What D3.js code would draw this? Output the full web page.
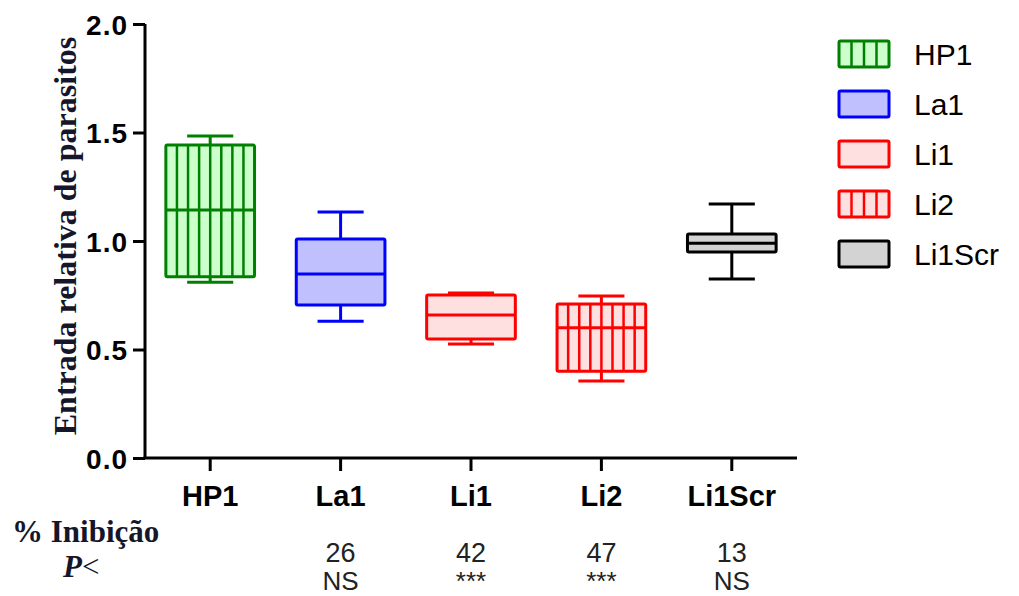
<!DOCTYPE html>
<html>
<head>
<meta charset="utf-8">
<script src="https://cdn.jsdelivr.net/npm/d3@7"></script>
<style>
  html, body { margin: 0; padding: 0; background: #fff; }
  svg { display: block; }
  .serif { font-family: "Liberation Serif", "Times New Roman", serif; font-weight: bold; fill: #16162a; }
  .sans { font-family: "Liberation Sans", Arial, sans-serif; }
</style>
</head>
<body>
<svg id="chart" width="1019" height="596"></svg>
<script>
// Box-plot summary per group (relative parasite entry)
const categories  = ["HP1", "La1", "Li1", "Li2", "Li1Scr"];
const whiskerLow  = [0.81, 0.63, 0.525, 0.355, 0.825];
const q1          = [0.835, 0.705, 0.548, 0.40, 0.949];
const median      = [1.143, 0.848, 0.659, 0.60, 0.99];
const q3          = [1.442, 1.009, 0.751, 0.71, 1.032];
const whiskerHigh = [1.484, 1.134, 0.76, 0.747, 1.17];
const yTicks      = [0.0, 0.5, 1.0, 1.5, 2.0];
const inhibition  = ["", "26", "42", "47", "13"];
const pValues     = ["", "NS", "***", "***", "NS"];

// Per-group appearance
const strokes  = ["#008000", "#0000ff", "#ff0000", "#ff0000", "#000000"];
const fills    = ["#ccffcc", "#c0c0ff", "#ffe0e0", "#ffe0e0", "#d3d3d3"];
const hatched  = [true, false, false, true, false];

const svg = d3.select("#chart");
const plotLeft = 145, plotRight = 797, plotTop = 24, plotBottom = 458;

const x = d3.scaleBand().domain(categories).range([plotLeft, plotRight]).padding(0);
const y = d3.scaleLinear().domain([0, 2]).range([plotBottom, plotTop]);

const boxW = x.bandwidth() * 0.68;
const capW = boxW * 0.52;
const lw = 3;

// Axes
const yAxis = d3.axisLeft(y).tickValues(yTicks).tickFormat(d3.format(".1f"))
  .tickSize(12).tickPadding(5);
const gy = svg.append("g").attr("transform", `translate(${plotLeft},0)`).call(yAxis);
gy.select(".domain").attr("stroke", "#000").attr("stroke-width", lw).attr("d", `M0,${plotBottom}V${plotTop}`);
gy.selectAll(".tick line").attr("stroke", "#000").attr("stroke-width", lw);
gy.selectAll(".tick text").attr("class", "sans").attr("font-size", 28).attr("font-weight", "bold")
  .attr("letter-spacing", 1).attr("fill", "#000").attr("dy", "0.36em");

const xAxis = d3.axisBottom(x).tickSize(13).tickPadding(10);
const gx = svg.append("g").attr("transform", `translate(0,${plotBottom})`).call(xAxis);
gx.select(".domain").attr("stroke", "#000").attr("stroke-width", lw).attr("d", `M${plotLeft - 1.5},0H${plotRight}`);
gx.selectAll(".tick line").attr("stroke", "#000").attr("stroke-width", lw);
gx.selectAll(".tick text").attr("class", "sans").attr("font-size", 29).attr("font-weight", "bold")
  .attr("fill", "#000").attr("dy", "0.85em");
gx.attr("font-family", null); gy.attr("font-family", null);

// Boxes
categories.forEach((c, i) => {
  const cx = x(c) + x.bandwidth() / 2;
  const g = svg.append("g").attr("stroke", strokes[i]).attr("stroke-width", lw).attr("fill", "none")
    .attr("stroke-linecap", "butt");
  // whiskers
  g.append("line").attr("x1", cx).attr("x2", cx).attr("y1", y(whiskerHigh[i])).attr("y2", y(q3[i]));
  g.append("line").attr("x1", cx).attr("x2", cx).attr("y1", y(q1[i])).attr("y2", y(whiskerLow[i]));
  g.append("line").attr("x1", cx - capW / 2).attr("x2", cx + capW / 2)
    .attr("y1", y(whiskerHigh[i])).attr("y2", y(whiskerHigh[i]));
  g.append("line").attr("x1", cx - capW / 2).attr("x2", cx + capW / 2)
    .attr("y1", y(whiskerLow[i])).attr("y2", y(whiskerLow[i]));
  // box
  g.append("rect").attr("x", cx - boxW / 2).attr("y", y(q3[i]))
    .attr("width", boxW).attr("height", y(q1[i]) - y(q3[i]))
    .attr("fill", fills[i]).attr("rx", 1.5);
  if (hatched[i]) {
    const n = 8;
    d3.range(1, n).forEach(k => {
      const hx = cx - boxW / 2 + k * boxW / n;
      g.append("line").attr("x1", hx).attr("x2", hx).attr("y1", y(q3[i])).attr("y2", y(q1[i]))
        .attr("stroke-width", 2.5);
    });
  }
  g.append("line").attr("x1", cx - boxW / 2).attr("x2", cx + boxW / 2)
    .attr("y1", y(median[i])).attr("y2", y(median[i]));
});

// Legend
const legend = svg.append("g");
categories.forEach((c, i) => {
  const ly = 54 + i * 50;
  const sw = 50, sh = 26, sx = 839;
  const g = legend.append("g");
  g.append("rect").attr("x", sx).attr("y", ly - sh / 2).attr("width", sw).attr("height", sh)
    .attr("fill", fills[i]).attr("stroke", strokes[i]).attr("stroke-width", lw).attr("rx", 1.5);
  if (hatched[i]) {
    d3.range(1, 4).forEach(k => {
      const hx = sx + k * sw / 4;
      g.append("line").attr("x1", hx).attr("x2", hx).attr("y1", ly - sh / 2).attr("y2", ly + sh / 2)
        .attr("stroke", strokes[i]).attr("stroke-width", 2.5);
    });
  }
  g.append("text").attr("class", "sans").attr("x", 914).attr("y", ly + 11)
    .attr("font-size", 30).attr("fill", "#000").text(c);
});

// Y-axis title
svg.append("text").attr("class", "serif")
  .attr("transform", `translate(76,${(plotTop + plotBottom) / 2 - 5}) rotate(-90)`)
  .attr("text-anchor", "middle").attr("font-size", 32)
  .text("Entrada relativa de parasitos");

// Inhibition table under the axis
svg.append("text").attr("class", "serif").attr("x", 12).attr("y", 542).attr("font-size", 31)
  .text("% Inibição");
const pl = svg.append("text").attr("class", "serif").attr("x", 63).attr("y", 577).attr("font-size", 31);
pl.append("tspan").attr("font-style", "italic").text("P");
pl.append("tspan").attr("font-weight", "normal").text("<");

categories.forEach((c, i) => {
  const cx = x(c) + x.bandwidth() / 2;
  svg.append("text").attr("class", "sans").attr("x", cx).attr("y", 562).attr("text-anchor", "middle")
    .attr("font-size", 27).attr("fill", "#222").text(inhibition[i]);
  svg.append("text").attr("class", "sans").attr("x", cx).attr("y", 590).attr("text-anchor", "middle")
    .attr("font-size", 26).attr("fill", "#222").text(pValues[i]);
});
</script>
</body>
</html>
